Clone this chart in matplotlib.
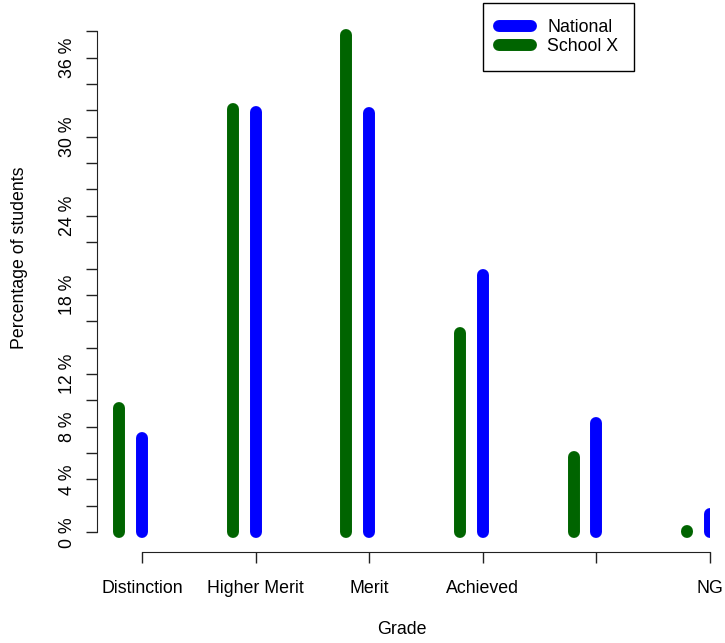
import numpy as np
import matplotlib
matplotlib.use('Agg')
import matplotlib.pyplot as plt
from matplotlib.lines import Line2D

plt.rcParams['font.family'] = ['Liberation Sans', 'DejaVu Sans']

# grades (the fifth label is not shown on the original axis)
grades = ['Distinction', 'Higher Merit', 'Merit', 'Achieved', '', 'NG']
national = [7.15, 31.9, 31.8, 19.5, 8.25, 1.35]
school_x = [9.4, 32.1, 37.7, 15.1, 5.7, 0.1]
y_ticks = list(range(0, 40, 2))
y_labels_shown = [0, 4, 8, 12, 18, 24, 30, 36]

blue = '#0000FF'
green = '#006400'

fig = plt.figure(figsize=(7.25, 6.43), dpi=100)
ax = fig.add_axes([97 / 725, 1 - 552 / 643, (710 - 97) / 725, (552 - 16) / 643])

x = np.arange(1, len(grades) + 1)
lw = 8.6  # thick "type h" lines

lc_s = ax.vlines(x - 0.2, 0, school_x, color=green, linewidth=lw)
lc_n = ax.vlines(x, 0, national, color=blue, linewidth=lw)
for lc in (lc_s, lc_n):
    lc.set_capstyle('round')

ax.set_xlim(0.604, 6.0)
ax.set_ylim(-1.5, 39.15)

# axes like base R: no box, axis lines only from first to last tick
for side in ('top', 'right'):
    ax.spines[side].set_visible(False)
ax.spines['left'].set_bounds(0, 38)
ax.spines['bottom'].set_bounds(1, 6)
ax.spines['left'].set_color('#222222')
ax.spines['bottom'].set_color('#222222')

ax.set_xticks(x)
ax.set_xticklabels(grades, fontsize=12.8)
ax.set_yticks(y_ticks)
ax.set_yticklabels([f'{v} %' if v in y_labels_shown else '' for v in y_ticks],
                   rotation=90, va='center', fontsize=12.8)
ax.tick_params(axis='x', length=8, width=1, color='#222222', pad=12)
ax.tick_params(axis='y', length=8, width=1, color='#222222', pad=7)

fig.text(402 / 725, 1 - 630 / 643, 'Grade', ha='center', va='center', fontsize=12.8)
fig.text(20 / 725, 1 - 258 / 643, 'Percentage of students', ha='center', va='center',
         rotation=90, fontsize=12.8)

handles = [Line2D([], [], color=blue, lw=lw, solid_capstyle='round'),
           Line2D([], [], color=green, lw=lw, solid_capstyle='round')]
leg = fig.legend(handles, ['National', 'School X'], loc='upper left',
                 bbox_to_anchor=(483 / 725, 1 - 3 / 643), fontsize=12.8,
                 fancybox=False, edgecolor='black', framealpha=1,
                 borderpad=0.9, handlelength=1.82, handletextpad=0.9,
                 labelspacing=0.1, borderaxespad=0)
leg.get_frame().set_linewidth(1)

fig.savefig('out.png', dpi=100)
